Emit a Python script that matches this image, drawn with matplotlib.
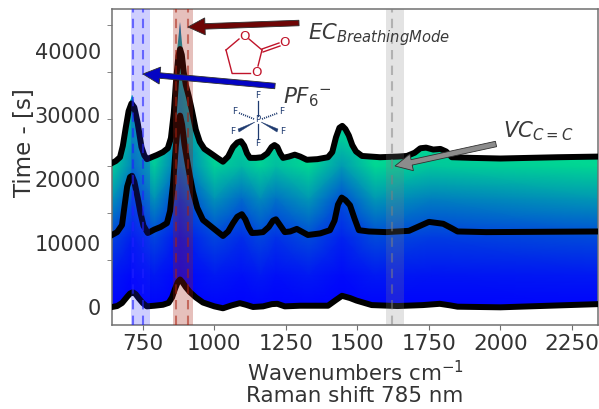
import numpy as np
import matplotlib
matplotlib.use("Agg")
import matplotlib.pyplot as plt
from matplotlib.patches import FancyArrow, Polygon

# spectra
top_wn = [642,655,670,680,690,700,710,720,732,745,755,764,780,799,820,837,848,858,866,874,880,886,893,900,910,921,935,949,965,991,1010,1030,1048,1065,1080,1093,1104,1114,1124,1145,1166,1185,1200,1210,1220,1230,1240,1260,1281,1300,1323,1360,1397,1412,1425,1437,1447,1458,1470,1482,1495,1516,1579,1640,1673,1700,1720,1740,1765,1790,1810,1830,1900,2000,2200,2341]
top_val = [22500,22800,23400,25200,28000,30600,31800,31200,28700,25000,23700,23100,23400,23750,24200,24800,26400,30300,35400,39200,40300,39400,36600,34700,33000,30800,27700,25800,24700,23900,23300,22700,23500,25000,25700,25900,25200,24000,23300,23300,23400,24000,25000,25300,25000,24000,23300,23500,23800,23500,23000,23100,23400,24200,26500,28000,28300,27800,26800,25300,24300,23600,23400,23500,23600,24100,24800,24900,24600,24700,24300,23400,23300,23200,23400,23500]
mid_wn = [642,660,677,685,695,705,712,720,732,742,752,767,790,812,834,845,855,865,873,880,887,895,905,914,925,940,960,985,1010,1030,1048,1065,1080,1096,1108,1120,1131,1150,1170,1190,1205,1215,1226,1246,1265,1288,1327,1370,1404,1420,1432,1445,1458,1474,1490,1505,1540,1600,1680,1720,1750,1800,1830,1850,1950,2341]
mid_val = [11250,11700,12800,15500,18800,20300,20500,19600,17000,14600,12700,11560,12100,12500,13100,15000,19000,25000,28800,29900,28500,25500,22800,20500,18000,15500,13600,12700,11800,11100,11800,13100,14100,14500,13700,12400,11560,11600,11700,12500,13500,13700,13000,11700,11800,12200,11250,11500,12000,13500,16000,17100,16700,15900,13800,12000,11800,11700,11900,12700,13300,13000,12300,11800,11700,11800]
bot_wn = [642,660,677,695,705,715,725,735,750,764,790,820,840,852,862,872,880,888,900,914,935,960,1000,1030,1060,1089,1110,1135,1170,1201,1220,1246,1300,1397,1425,1446,1474,1497,1550,1640,1700,1729,1788,1825,1850,2000,2341]
bot_val = [0,150,625,1600,2100,2300,2000,1400,600,100,200,350,650,1500,2800,3900,4300,3900,3100,2350,1500,700,100,-200,250,600,350,0,100,450,500,100,200,200,1100,1750,1400,1000,300,150,250,300,500,250,50,-50,450]
# coloured tips above the top black line
tip1_wn = [690,703,713,725,745]
tip1_val = [28000,31500,33200,31000,25000]
tip2_wn = [858,868,880,892,921]
tip2_val = [30300,40000,44600,38000,30800]

# colour level table (wavenumber columns, height rows)
grid_wn = [642,715,790,880,1000,1095,1160,1215,1330,1445,1560,1760,2341]
grid_lv = [-1000,5000,11000,17000,22000,26000,33000,39000,46000]
grid_c = [
 [.00,.00,.00,.00,.00,.00,.00,.00,.00,.00,.00,.00,.00],
 [.10,.03,.10,.02,.10,.06,.10,.06,.10,.04,.10,.08,.10],
 [.28,.12,.28,.08,.28,.18,.28,.20,.30,.14,.30,.24,.30],
 [.58,.30,.58,.22,.58,.42,.55,.45,.60,.32,.60,.50,.60],
 [.82,.50,.80,.42,.82,.72,.82,.74,.84,.60,.84,.78,.84],
 [.86,.60,.86,.50,.86,.82,.86,.82,.86,.78,.86,.86,.86],
 [.86,.70,.86,.55,.86,.86,.86,.86,.86,.86,.86,.86,.86],
 [.86,.70,.86,.72,.86,.86,.86,.86,.86,.86,.86,.86,.86],
 [.86,.70,.86,.35,.86,.86,.86,.86,.86,.86,.86,.86,.86],
]

blue_span = (708, 774); blue_dash = [715, 750]
red_span = (855, 925); red_dash = [865, 907]
gray_span = (1600, 1662); gray_dash = [1620]

y_labels = [0, 10000, 20000, 30000, 40000]
y_marks = [0, 7350, 14700, 22000, 29350, 36700, 44050]
x_ticks = [750, 1000, 1250, 1500, 1750, 2000, 2250]

W, H = 599, 409
fig = plt.figure(figsize=(W/100, H/100), dpi=100)
ax = fig.add_axes([112/W, (H-325)/H, 486/W, 316/H])
ax.set_xlim(642, 2341)
ax.set_ylim(-2812, 46560)

mesh = ax.pcolormesh(grid_wn, grid_lv, np.array(grid_c), cmap="winter", vmin=0, vmax=1,
                     shading="gouraud", zorder=1, rasterized=True)

# outline of the coloured body
upper = sorted(
    [(w, v) for w, v in zip(top_wn, top_val) if not (690 <= w <= 745 or 858 <= w <= 921)]
    + list(zip(tip1_wn, tip1_val)) + list(zip(tip2_wn, tip2_val)))
lower = list(zip(bot_wn, bot_val))[::-1]
outline = Polygon(upper + lower, closed=True, transform=ax.transData, fc="none", ec="none")
ax.add_patch(outline)
mesh.set_clip_path(outline)

for wn, val in [(top_wn, top_val), (mid_wn, mid_val), (bot_wn, bot_val)]:
    ax.plot(wn, val, color="black", lw=4.3, zorder=3, solid_joinstyle="round")

for span, dashes, col, a_s, a_d in [(blue_span, blue_dash, "#2020ff", .22, .6),
                                    (red_span, red_dash, "#a82010", .28, .55),
                                    (gray_span, gray_dash, "#808080", .22, .5)]:
    ax.axvspan(*span, color=col, alpha=a_s, lw=0, zorder=4)
    for d in dashes:
        ax.axvline(d, color=col, alpha=a_d, lw=1.5, ls=(0, (4.5, 3)), zorder=4)

for s in ax.spines.values():
    s.set_color("#707070"); s.set_linewidth(1.1)
ax.set_xticks(x_ticks)
ax.set_yticks(y_labels)
ax.set_yticks(y_marks, minor=True)
ax.tick_params(axis="y", which="major", length=0, labelsize=15, labelcolor="#333333", pad=8)
ax.tick_params(axis="y", which="minor", length=3.5, color="#707070")
ax.tick_params(axis="x", length=3.5, color="#707070", labelsize=15.5, labelcolor="#333333", pad=3)
ax.set_xlabel("Wavenumbers cm$^{-1}$\nRaman shift 785 nm", fontsize=15.4, color="#333333",
              labelpad=4, linespacing=1.1)
ax.set_ylabel("Time - [s]", fontsize=16.5, color="#333333")
ax.yaxis.set_label_coords(-0.157, 0.576)

# overlay in image pixels for arrows and molecule sketches
ov = fig.add_axes([0, 0, 1, 1], facecolor="none")
ov.set_xlim(0, W); ov.set_ylim(H, 0); ov.axis("off")

def arrow(x0, y0, x1, y1, col):
    ov.add_patch(FancyArrow(x0, y0, x1-x0, y1-y0, width=5.5, head_width=17, head_length=17,
                            length_includes_head=True, fc=col, ec="#303030", lw=.6, zorder=6))
arrow(299, 23, 188, 27, "#6e0505")
arrow(275, 86, 143, 74, "#0404c4")
arrow(496, 144, 395, 166, "#8c8c8c")

ink = "#3a3a3a"
ov.text(308, 35, "$EC_{BreathingMode}$", fontsize=15.2, color=ink, va="center")
ov.text(283, 97, "$PF_6{}^{-}$", fontsize=15.5, color=ink, va="center")
ov.text(503, 131, "$VC_{C=C}$", fontsize=15.3, color=ink, va="center")

red = "#c0142a"
for seg in [[(226,50),(239,39)], [(249,39),(262,50)], [(262,50),(258,66)], [(250,73),(232,73)],
            [(232,73),(226,50)], [(262,49),(279,43)], [(263,52),(280,46)]]:
    ov.plot(*zip(*seg), color=red, lw=1.0, zorder=6)
for x, y, t in [(244,37,"O"), (285,43,"O"), (256,73,"O")]:
    ov.text(x, y, t, color=red, fontsize=9.5, ha="center", va="center", zorder=6)

navy = "#1f3b70"
ov.plot([258,258],[101,116], color=navy, lw=.9, zorder=6)
ov.plot([258,258],[124,139], color=navy, lw=.9, zorder=6)
ov.plot([239,254],[113,119], color=navy, lw=1.3, ls=(0,(.6,.6)), zorder=6)
ov.plot([262,278],[119,113], color=navy, lw=1.3, ls=(0,(.6,.6)), zorder=6)
ov.add_patch(Polygon([(255,122),(238,129),(239,132)], fc=navy, ec=navy, lw=.3, zorder=6))
ov.add_patch(Polygon([(261,122),(278,129),(277,132)], fc=navy, ec=navy, lw=.3, zorder=6))
ov.text(258, 120, "P", color=navy, fontsize=6, ha="center", va="center", zorder=6)
for x, y in [(258,96),(258,144),(235,111),(282,111),(233,132),(283,132)]:
    ov.text(x, y, "F", color=navy, fontsize=6.5, ha="center", va="center", zorder=6)

fig.savefig("out.png", dpi=100)
